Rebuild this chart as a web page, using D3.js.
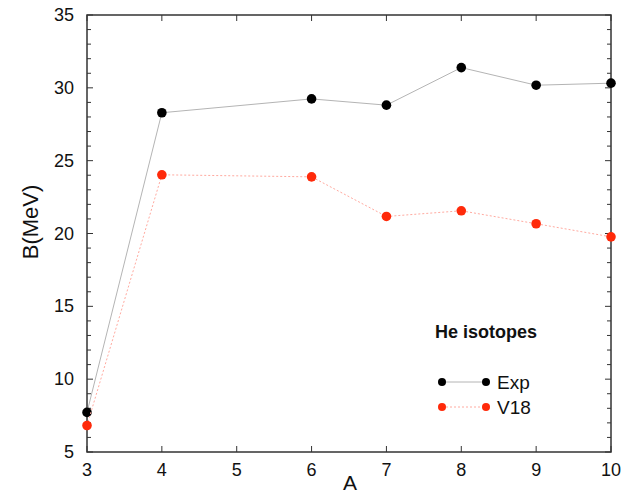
<!DOCTYPE html>
<html>
<head>
<meta charset="utf-8">
<script src="https://cdn.jsdelivr.net/npm/d3@7"></script>
<style>
  body { margin: 0; background: #fff; }
  text { font-family: "Liberation Sans", Arial, sans-serif; fill: #111; }
</style>
</head>
<body>
<svg id="chart" width="631" height="495"></svg>
<script>
// binding energies of He isotopes
const massNumbers = [3, 4, 6, 7, 8, 9, 10]
const expValues = [7.72, 28.29, 29.24, 28.81, 31.39, 30.18, 30.32]
const v18Values = [6.82, 24.03, 23.89, 21.17, 21.56, 20.67, 19.77]
const xTicks = [3, 4, 5, 6, 7, 8, 9, 10]
const yTicks = [5, 10, 15, 20, 25, 30, 35]

const svg = d3.select('#chart')
const padL = 87, padR = 611, padT = 15, padB = 452

const x = d3.scaleLinear().domain([3, 10]).range([padL, padR])
const y = d3.scaleLinear().domain([5, 35]).range([padB, padT])

const frame = '#333'

// ticks, all inward
let minor = d3.range(5, 36, 1)
svg.append('g').selectAll('line')
  .data(minor)
  .join('line')
  .attr('x1', padL).attr('x2', d => padL + (d % 5 === 0 ? 6 : 4))
  .attr('y1', d => y(d)).attr('y2', d => y(d))
  .attr('stroke', frame).attr('stroke-width', 1)
svg.append('g').selectAll('line')
  .data(minor)
  .join('line')
  .attr('x1', padR).attr('x2', d => padR - (d % 5 === 0 ? 6 : 4))
  .attr('y1', d => y(d)).attr('y2', d => y(d))
  .attr('stroke', frame).attr('stroke-width', 1)
svg.append('g').selectAll('line')
  .data(xTicks)
  .join('line')
  .attr('x1', d => x(d)).attr('x2', d => x(d))
  .attr('y1', padB).attr('y2', padB - 6)
  .attr('stroke', frame).attr('stroke-width', 1)
svg.append('g').selectAll('line')
  .data(xTicks)
  .join('line')
  .attr('x1', d => x(d)).attr('x2', d => x(d))
  .attr('y1', padT).attr('y2', padT + 6)
  .attr('stroke', frame).attr('stroke-width', 1)

svg.append('rect')
  .attr('x', padL).attr('y', padT)
  .attr('width', padR - padL).attr('height', padB - padT)
  .attr('fill', 'none').attr('stroke', frame).attr('stroke-width', 1.5)

// tick labels
svg.append('g').selectAll('text')
  .data(yTicks)
  .join('text')
  .attr('x', 74).attr('y', d => y(d) + 6)
  .attr('text-anchor', 'end')
  .style('font-size', '18px')
  .text(d => d)
svg.append('g').selectAll('text')
  .data(xTicks)
  .join('text')
  .attr('x', d => x(d)).attr('y', 476)
  .attr('text-anchor', 'middle')
  .style('font-size', '18px')
  .text(d => d)

svg.append('text')
  .attr('x', 350).attr('y', 490)
  .attr('text-anchor', 'middle')
  .style('font-size', '21px')
  .text('A')
svg.append('text')
  .attr('transform', 'translate(38,222) rotate(-90)')
  .attr('text-anchor', 'middle')
  .style('font-size', '22px')
  .text('B(MeV)')

// series
const series = [
  {name: 'Exp', values: expValues, line: '#b4b4b4', dash: null, dot: '#000'},
  {name: 'V18', values: v18Values, line: '#ffaaa0', dash: '2,2', dot: '#ff2a0a'}
]
const lineGen = d3.line().x((d, i) => x(massNumbers[i])).y(d => y(d))

series.forEach(s => {
  svg.append('path')
    .datum(s.values)
    .attr('d', lineGen)
    .attr('fill', 'none')
    .attr('stroke', s.line)
    .attr('stroke-width', 1)
    .attr('stroke-dasharray', s.dash)
  svg.append('g').selectAll('circle')
    .data(s.values)
    .join('circle')
    .attr('cx', (d, i) => x(massNumbers[i]))
    .attr('cy', d => y(d))
    .attr('r', 4.8)
    .attr('fill', s.dot)
})

// legend
svg.append('text')
  .attr('x', 435).attr('y', 338)
  .style('font-size', '18px').style('font-weight', 'bold')
  .text('He isotopes')

series.forEach((s, i) => {
  let ly = 382 + i * 25
  svg.append('line')
    .attr('x1', 442).attr('x2', 486)
    .attr('y1', ly).attr('y2', ly)
    .attr('stroke', s.line).attr('stroke-width', 1)
    .attr('stroke-dasharray', s.dash)
  svg.append('circle').attr('cx', 442).attr('cy', ly).attr('r', 4).attr('fill', s.dot)
  svg.append('circle').attr('cx', 486).attr('cy', ly).attr('r', 4).attr('fill', s.dot)
  svg.append('text')
    .attr('x', 497).attr('y', ly + 7)
    .style('font-size', '19px')
    .text(s.name)
})
</script>
</body>
</html>
